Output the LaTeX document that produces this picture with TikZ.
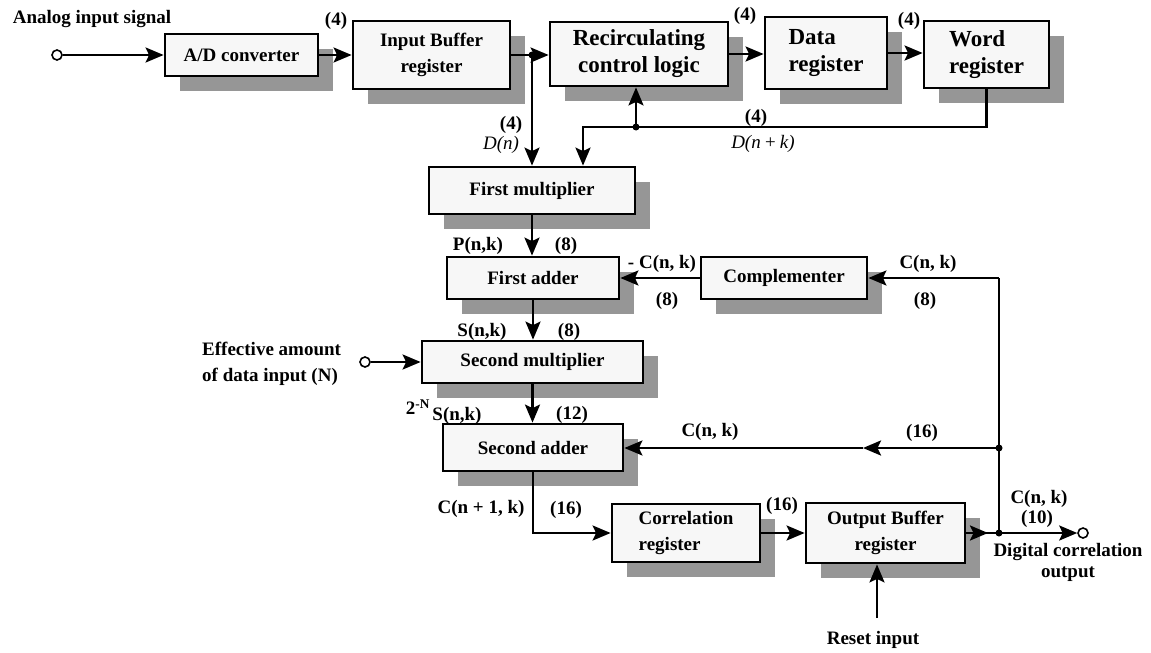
\documentclass[tikz,border=0pt]{standalone}
\usepackage{fontspec}
\setmainfont{Liberation Serif}
\usetikzlibrary{shadows,arrows.meta}
\definecolor{boxfill}{HTML}{F7F7F7}
\definecolor{shadowgray}{HTML}{969696}
\begin{document}
\begin{tikzpicture}[x=1pt,y=-1pt,
  font=\fontsize{19}{26}\selectfont\bfseries,
  box/.style={draw,line width=2.8pt,fill=boxfill,inner sep=0pt,align=center,
     drop shadow={shadow xshift=15pt,shadow yshift=-15pt,fill=shadowgray,opacity=1}},
  bigtext/.style={font=\fontsize{23}{27}\selectfont\bfseries},
  wire/.style={line width=2.5pt},
  arr/.style={wire,-{Stealth[length=18pt,width=15pt,inset=3.5pt]}},
  dot/.style={circle,fill,inner sep=0pt,minimum size=7pt},
  port/.style={circle,draw,line width=1.6pt,fill=white,inner sep=0pt,minimum size=10pt},
  lbl/.style={inner sep=0pt},
  itl/.style={inner sep=0pt,font=\fontsize{19}{22}\selectfont\itshape}]
\useasboundingbox (0,0) rectangle (1151,653);

% boxes
\node[box,minimum width=153pt,minimum height=42pt] (ad) at (241.5,55) {A/D converter};
\node[box,minimum width=157pt,minimum height=68pt] (ib) at (431.5,55) {Input Buffer\\register};
\node[box,bigtext,minimum width=178pt,minimum height=64pt] (rc) at (639,54) {Recirculating\\control logic};
\node[box,bigtext,minimum width=122pt,minimum height=72pt,align=left] (dr) at (826,53) {Data\\register};
\node[box,bigtext,minimum width=125pt,minimum height=67pt,align=left] (wr) at (986.5,54.5) {Word\\register};
\node[box,minimum width=206pt,minimum height=47pt] (fm) at (532,190.5) {First multiplier};
\node[box,minimum width=172pt,minimum height=42pt] (fa) at (533,278) {First adder};
\node[box,minimum width=166pt,minimum height=42pt] (cp) at (784,278) {Complementer};
\node[box,minimum width=221pt,minimum height=42pt] (sm) at (532.5,362) {Second multiplier};
\node[box,minimum width=180pt,minimum height=47pt] (sa) at (533,447.5) {Second adder};
\node[box,minimum width=148pt,minimum height=58pt,align=left] (cr) at (686,533) {Correlation\\register};
\node[box,minimum width=159pt,minimum height=60pt] (ob) at (885.5,533) {Output Buffer\\register};

% ports, junctions, coordinates
\node[port] (in1) at (57,55) {};
\node[port] (in2) at (365,362) {};
\node[port] (out) at (1083,533) {};
\node[dot] (d1) at (532,55) {};
\node[dot] (d2) at (636,127) {};
\node[dot] (d3) at (999,448) {};
\node[dot] (d4) at (999,533) {};
\coordinate (c1) at (583,127);
\coordinate (c2) at (999,278);
\coordinate (m1) at (863,448);
\coordinate (m2) at (988,533);
\coordinate (rs) at (877,618);

% connectors
\draw[arr] (in1) -- (ad.west);
\draw[arr] (ad.east) -- (ib.west);
\draw[arr] (ib.east) -- (ib.east -| rc.west);
\draw[arr] (d1.center) -- (d1.center |- fm.north);
\draw[arr] (rc.east) -- (rc.east -| dr.west);
\draw[arr] (dr.east) -- (dr.east -| wr.west);
\draw[arr] (wr.south) |- (c1) -- (c1 |- fm.north);
\draw[arr] (d2.center) -- (d2.center |- rc.south);
\draw[arr] (fm.south) -- (fm.south |- fa.north);
\draw[arr] (c2) -- (c2 -| cp.east);
\draw[arr] (cp.west) -- (fa.east);
\draw[wire] (c2) -- (d4.center);
\draw[arr] (d3.center) -- (m1);
\draw[arr] (m1) -- (m1 -| sa.east);
\draw[arr] (fa.south) -- (fa.south |- sm.north);
\draw[arr] (in2) -- (sm.west);
\draw[arr] (sm.south) -- (sm.south |- sa.north);
\draw[arr] (sa.south) |- (cr.west);
\draw[arr] (cr.east) -- (ob.west);
\draw[wire] (ob.east) -- (d4.center);
\draw[arr] (ob.east) -- (m2);
\draw[arr] (d4.center) -- (out);
\draw[arr] (rs) -- (rs |- ob.south);

% labels
\node[lbl] (t1) at (92,19) {Analog input signal};
\node[lbl] (t2) at (336,21) {(4)};
\node[lbl] (t3) at (745,16) {(4)};
\node[lbl] (t4) at (909,21) {(4)};
\node[lbl] (t5) at (511,125) {(4)};
\node[itl] (t6) at (501,145) {D(n)};
\node[lbl] (t7) at (756,118) {(4)};
\node[itl] (t8) at (763,144) {D(n\,+\,k)};
\node[lbl] (t9) at (478,246) {P(n,k)};
\node[lbl] (t10) at (566,246) {(8)};
\node[lbl] (t11) at (662,264) {- C(n, k)};
\node[lbl] (t12) at (667,301) {(8)};
\node[lbl] (t13) at (928,264) {C(n, k)};
\node[lbl] (t14) at (925,301) {(8)};
\node[lbl] (t15) at (482,332) {S(n,k)};
\node[lbl] (t16) at (569,332) {(8)};
\node[lbl,align=left,anchor=west] (t17) at (202,364) {Effective amount\\of data input (N)};
\node[lbl] (t18) at (418,407) {2\textsuperscript{-N}};
\node[lbl] (t19) at (457,416) {S(n,k)};
\node[lbl] (t20) at (572,415) {(12)};
\node[lbl] (t21) at (710,432) {C(n, k)};
\node[lbl] (t22) at (922,433) {(16)};
\node[lbl] (t23) at (481,509) {C(n + 1, k)};
\node[lbl] (t24) at (566,510) {(16)};
\node[lbl] (t25) at (782,506) {(16)};
\node[lbl] (t26) at (1039,499) {C(n, k)};
\node[lbl] (t27) at (1037,519) {(10)};
\node[lbl,align=center,font=\fontsize{19}{21}\selectfont\bfseries] (t28) at (1068,562) {Digital correlation\\output};
\node[lbl] (t29) at (873,640) {Reset input};
\end{tikzpicture}
\end{document}
